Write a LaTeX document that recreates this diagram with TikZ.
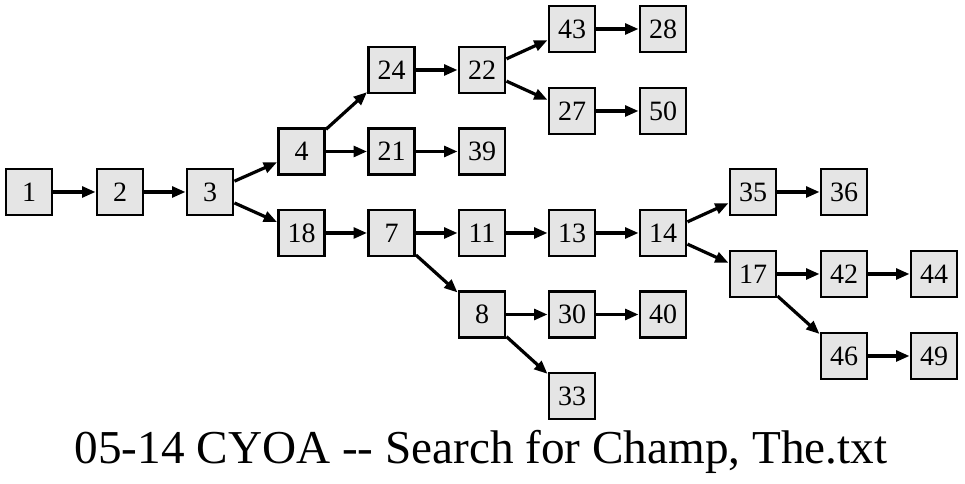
\documentclass[tikz,border=0pt]{standalone}
\usepackage{fontspec}
\setmainfont{Liberation Serif}
\usetikzlibrary{arrows.meta}
\definecolor{boxfill}{RGB}{229,229,229}
\tikzset{
  box/.style={draw=black, fill=boxfill, line width=2.2pt, minimum size=34.5pt, inner sep=0pt, font=\fontsize{21}{21}\selectfont},
  edge/.style={line width=2.4pt, -{Triangle[length=10pt,width=8pt]}},
}
\begin{document}
\begin{tikzpicture}[x=0.75pt,y=-0.75pt]
\useasboundingbox (0,0) rectangle (965,484);
% columns
\def\ca{29}\def\cb{120}\def\cc{210}\def\cd{301.5}\def\ce{391.5}\def\cf{482}\def\cg{572}\def\ch{663}\def\ci{753}\def\cj{844}\def\ck{934}
\node[box] (n1) at (\ca,192) {1};
\node[box] (n2) at (\cb,192) {2};
\node[box] (n3) at (\cc,192) {3};
\node[box] (n4) at (\cd,151.5) {4};
\node[box] (n18) at (\cd,233) {18};
\node[box] (n24) at (\ce,70) {24};
\node[box] (n21) at (\ce,151.5) {21};
\node[box] (n7) at (\ce,233) {7};
\node[box] (n22) at (\cf,70) {22};
\node[box] (n39) at (\cf,151.5) {39};
\node[box] (n11) at (\cf,233) {11};
\node[box] (n8) at (\cf,314.5) {8};
\node[box] (n43) at (\cg,29) {43};
\node[box] (n27) at (\cg,111) {27};
\node[box] (n13) at (\cg,233) {13};
\node[box] (n30) at (\cg,314.5) {30};
\node[box] (n33) at (\cg,396) {33};
\node[box] (n28) at (\ch,29) {28};
\node[box] (n50) at (\ch,111) {50};
\node[box] (n14) at (\ch,233) {14};
\node[box] (n40) at (\ch,314.5) {40};
\node[box] (n35) at (\ci,192) {35};
\node[box] (n17) at (\ci,274) {17};
\node[box] (n36) at (\cj,192) {36};
\node[box] (n42) at (\cj,274) {42};
\node[box] (n46) at (\cj,356) {46};
\node[box] (n44) at (\ck,274) {44};
\node[box] (n49) at (\ck,356) {49};
\foreach \a/\b in {n1/n2,n2/n3,n3/n4,n3/n18,n4/n24,n4/n21,n21/n39,n24/n22,n22/n43,n22/n27,n43/n28,n27/n50,n18/n7,n7/n11,n7/n8,n11/n13,n13/n14,n8/n30,n8/n33,n30/n40,n14/n35,n14/n17,n35/n36,n17/n42,n17/n46,n42/n44,n46/n49}
  \draw[edge] (\a) -- (\b);
\node[anchor=base, font=\fontsize{35.4}{36}\selectfont, inner sep=0pt] (title) at (481,464) {05-14 CYOA -{}- Search for Champ, The.txt};
\end{tikzpicture}
\end{document}
